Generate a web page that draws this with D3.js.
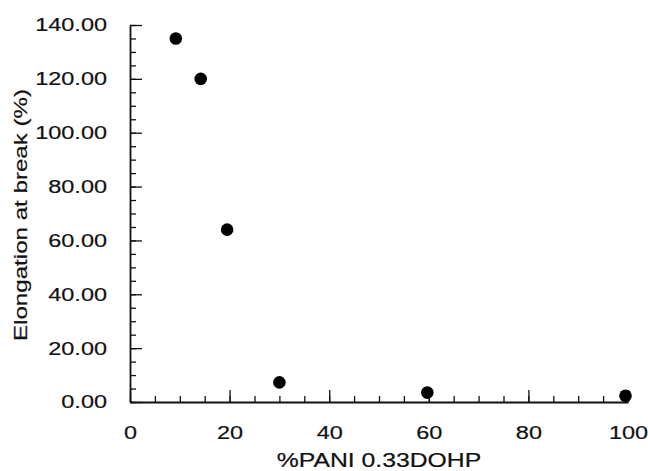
<!DOCTYPE html>
<html>
<head>
<meta charset="utf-8">
<script src="https://cdn.jsdelivr.net/npm/d3@7"></script>
<style>
  html, body { margin: 0; padding: 0; background: #fff; }
  svg { display: block; }
  text { font-family: "Liberation Sans", Arial, Helvetica, sans-serif; fill: #111; stroke: #111; stroke-width: 0.2px; }
</style>
</head>
<body>
<svg id="chart" width="648" height="471"></svg>
<script>
// Elongation at break versus PANI content
const panContent = [9.2, 14.2, 19.5, 30, 59.7, 99.5];
const elongation = [135, 120, 64, 7.3, 3.5, 2.3];

const xMajorTicks = [0, 20, 40, 60, 80, 100];
const xMinorTicks = d3.range(0, 101, 5);
const yMajorTicks = [0, 20, 40, 60, 80, 100, 120, 140];
const yMinorTicks = d3.range(0, 141, 5);

const xTitle = "%PANI 0.33DOHP";
const yTitle = "Elongation at break (%)";

const svg = d3.select("#chart");
const stretch = 1.27; // wide lettering

const x = d3.scaleLinear().domain([0, 100]).range([130, 628]);
const y = d3.scaleLinear().domain([0, 140]).range([402, 25]);

// minor ticks (inward)
svg.append("g")
  .attr("transform", `translate(0,${y(0)})`)
  .call(d3.axisBottom(x).tickValues(xMinorTicks).tickSizeInner(-6).tickSizeOuter(0).tickFormat(""))
  .call(g => g.select(".domain").remove());
svg.append("g")
  .attr("transform", `translate(${x(0)},0)`)
  .call(d3.axisLeft(y).tickValues(yMinorTicks).tickSizeInner(-6).tickSizeOuter(0).tickFormat(""))
  .call(g => g.select(".domain").remove());

// major ticks and labels
const xAxis = svg.append("g")
  .attr("transform", `translate(0,${y(0)})`)
  .call(d3.axisBottom(x).tickValues(xMajorTicks).tickSizeInner(-12).tickSizeOuter(0)
    .tickPadding(24).tickFormat(d3.format("d")));
const yAxis = svg.append("g")
  .attr("transform", `translate(${x(0)},0)`)
  .call(d3.axisLeft(y).tickValues(yMajorTicks).tickSizeInner(-12).tickSizeOuter(0)
    .tickPadding(23 / stretch).tickFormat(d3.format(".2f")));

svg.selectAll(".tick line").attr("stroke", "#111").attr("stroke-width", 1.3);
svg.selectAll(".domain").attr("stroke", "#111").attr("stroke-width", 1.8);

xAxis.selectAll(".tick text")
  .attr("font-size", 18.5).attr("font-family", null)
  .attr("transform", `scale(${stretch},1)`);
yAxis.selectAll(".tick text")
  .attr("font-size", 18.5).attr("font-family", null)
  .attr("transform", `scale(${stretch},1)`);

// axis titles
svg.append("text")
  .attr("transform", `translate(379,467) scale(${stretch},1)`)
  .attr("text-anchor", "middle")
  .attr("font-size", 19.5)
  .text(xTitle);
svg.append("text")
  .attr("transform", `translate(27,215) rotate(-90) scale(${stretch},1)`)
  .attr("text-anchor", "middle")
  .attr("font-size", 19)
  .text(yTitle);

// data points
svg.append("g")
  .selectAll("circle")
  .data(panContent.map((v, i) => [v, elongation[i]]))
  .join("circle")
  .attr("cx", d => x(d[0]))
  .attr("cy", d => y(d[1]))
  .attr("r", 6.3)
  .attr("fill", "#000");
</script>
</body>
</html>
